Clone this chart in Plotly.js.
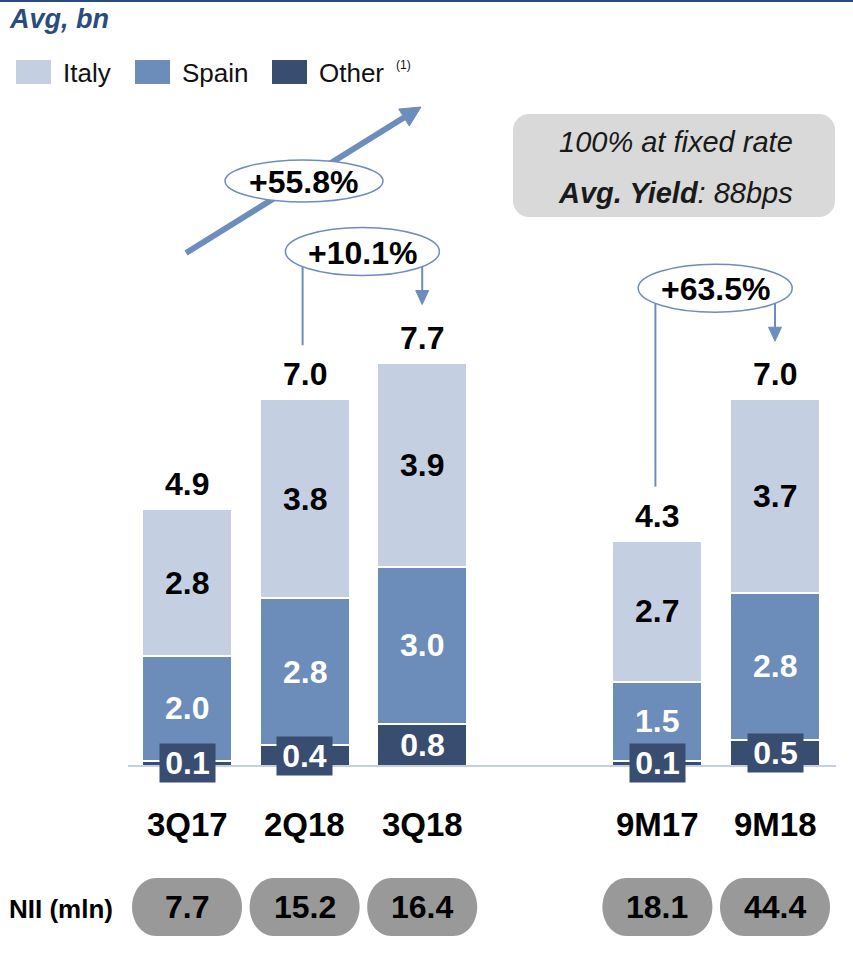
<!DOCTYPE html>
<html><head><meta charset="utf-8">
<script src="https://cdn.plot.ly/plotly-3.0.1.min.js"></script>
<style>html,body{margin:0;padding:0;background:#fff}</style>
</head><body><div id="chart" style="width:853px;height:967px"></div>
<script>
// ---- data ----
const categories = ['3Q17', '2Q18', '3Q18', '9M17', '9M18'];
const slots = [0, 1, 2, 4, 5];            // category slots (gap before the 9M group)
const other = [0.1, 0.4, 0.8, 0.1, 0.5];
const spain = [2.0, 2.8, 3.0, 1.5, 2.8];
const italy = [2.8, 3.8, 3.9, 2.7, 3.7];
const totals = [4.9, 7.0, 7.7, 4.3, 7.0];
const nii = ['7.7', '15.2', '16.4', '18.1', '44.4'];
const seriesNames = ['Italy', 'Spain', 'Other'];
const brackets = [[1, 2, '+10.1%'], [3, 4, '+63.5%']];
const overallGrowth = '+55.8%';

// ---- styling / geometry ----
const cItaly = '#c5cfe2', cSpain = '#6c8dba', cOther = '#384d6f', cArrow = '#6d8dbd';
const FONT = 'Liberation Sans, Arial, sans-serif';
const W = 853, H = 967, X0 = 187, SX = 117.6, Y0 = 766, SY = 52.4;
const dx = px => (px - X0) / SX;
const dy = py => (Y0 - py) / SY;
const toPx = x => X0 + x * SX;
const toPy = y => Y0 - y * SY;
const P = (px, py) => dx(px).toFixed(4) + ',' + dy(py).toFixed(4);

function roundRect(l, t, r, b, rx, ry) {
  const k = 0.5523;
  return 'M' + P(l + rx, t) + ' L' + P(r - rx, t) +
    ' C' + P(r - rx + k * rx, t) + ' ' + P(r, t + ry - k * ry) + ' ' + P(r, t + ry) +
    ' L' + P(r, b - ry) +
    ' C' + P(r, b - ry + k * ry) + ' ' + P(r - rx + k * rx, b) + ' ' + P(r - rx, b) +
    ' L' + P(l + rx, b) +
    ' C' + P(l + rx - k * rx, b) + ' ' + P(l, b - ry + k * ry) + ' ' + P(l, b - ry) +
    ' L' + P(l, t + ry) +
    ' C' + P(l, t + ry - k * ry) + ' ' + P(l + rx - k * rx, t) + ' ' + P(l + rx, t) + ' Z';
}

const barW = 0.765;
const mk = (name, y, color) => ({type: 'bar', name: name, x: slots, y: y, width: barW, hoverinfo: 'skip',
  marker: {color: color, line: {color: '#ffffff', width: 2}}});
const traces = [
  mk(seriesNames[2], other, cOther),
  mk(seriesNames[1], spain, cSpain),
  mk(seriesNames[0], italy, cItaly)
];

const shapes = [];
const ann = [];
const VAL = 32;

// top rule
shapes.push({type: 'line', x0: dx(0), x1: dx(W), y0: dy(1), y1: dy(1), line: {color: '#2b4c7e', width: 2}});
// baseline
shapes.push({type: 'line', x0: dx(128), x1: dx(836), y0: 0, y1: 0, line: {color: cItaly, width: 2}, layer: 'above'});

// legend (manual)
const legX = [16, 135, 272], legColors = [cItaly, cSpain, cOther];
for (let i = 0; i < 3; i++) {
  shapes.push({type: 'rect', x0: dx(legX[i]), x1: dx(legX[i] + 35), y0: dy(60), y1: dy(84), fillcolor: legColors[i], line: {width: 0}});
  ann.push({x: dx(legX[i] + 45), y: dy(73), xanchor: 'left', yanchor: 'middle', showarrow: false,
    text: seriesNames[i], font: {family: FONT, size: 26, color: '#111'}});
}
ann.push({x: dx(394), y: dy(65), xanchor: 'left', yanchor: 'middle', showarrow: false, text: '(1)', font: {family: FONT, size: 12, color: '#111'}});

// header
ann.push({x: dx(7), y: dy(19), xanchor: 'left', yanchor: 'middle', showarrow: false,
  text: '<b><i>Avg, bn</i></b>', font: {family: FONT, size: 27, color: '#2b4c7e'}});

// grey info box
shapes.push({type: 'path', path: roundRect(513, 114, 835, 217, 16, 16), fillcolor: '#d9d9d9', line: {width: 0}});
ann.push({x: dx(676), y: dy(142), showarrow: false, text: '<i>100% at fixed rate</i>', font: {family: FONT, size: 29, color: '#1a1a1a'}});
ann.push({x: dx(675), y: dy(193), showarrow: false, text: '<b><i>Avg. Yield</i></b><i>: 88bps</i>', font: {family: FONT, size: 29, color: '#1a1a1a'}});

// overall growth arrow
(function () {
  const tx = 186, ty = 253, hx = 421, hy = 107;
  const L = Math.hypot(hx - tx, hy - ty), ux = (hx - tx) / L, uy = (hy - ty) / L;
  const bx = hx - 20 * ux, by = hy - 20 * uy, nx = -uy, ny = ux;
  shapes.push({type: 'line', x0: dx(tx), y0: dy(ty), x1: dx(bx), y1: dy(by), line: {color: cArrow, width: 6}});
  shapes.push({type: 'path', path: 'M' + P(hx, hy) + ' L' + P(bx + 10 * nx, by + 10 * ny) + ' L' + P(bx - 10 * nx, by - 10 * ny) + ' Z',
    fillcolor: cArrow, line: {color: cArrow, width: 1}});
  shapes.push({type: 'circle', x0: dx(225), x1: dx(383), y0: dy(160), y1: dy(202), fillcolor: '#fff', line: {color: cArrow, width: 1.5}});
  ann.push({x: dx(303), y: dy(182), showarrow: false, text: '<b>' + overallGrowth + '</b>', font: {family: FONT, size: VAL, color: '#000'}});
})();

// period-on-period brackets
brackets.forEach(([a, b, label]) => {
  const xa = toPx(slots[a]) - 2, xb = toPx(slots[b]);
  const topY = toPy(Math.max(totals[a], totals[b]));
  const cy = topY - 111, cx = (xa + xb) / 2;
  const endA = toPy(totals[a]) - 54, tip = toPy(totals[b]) - 58;
  shapes.push({type: 'line', x0: dx(xa), x1: dx(xa), y0: dy(cy), y1: dy(endA), line: {color: cArrow, width: 2}});
  shapes.push({type: 'line', x0: dx(xb), x1: dx(xb), y0: dy(cy), y1: dy(tip - 12), line: {color: cArrow, width: 2}});
  shapes.push({type: 'path', path: 'M' + P(xb, tip) + ' L' + P(xb - 6.5, tip - 14) + ' L' + P(xb + 6.5, tip - 14) + ' Z',
    fillcolor: cArrow, line: {color: cArrow, width: 1}});
  shapes.push({type: 'circle', x0: dx(cx - 77), x1: dx(cx + 77), y0: dy(cy - 24), y1: dy(cy + 24), fillcolor: '#fff', line: {color: cArrow, width: 1.5}});
  ann.push({x: dx(cx), y: dy(cy + 1), showarrow: false, text: '<b>' + label + '</b>', font: {family: FONT, size: VAL, color: '#000'}});
});

// bar labels
slots.forEach((s, i) => {
  const base2 = other[i] + spain[i];
  ann.push({x: s, y: totals[i], yshift: 25, showarrow: false, text: '<b>' + totals[i].toFixed(1) + '</b>', font: {family: FONT, size: VAL, color: '#000'}});
  ann.push({x: s, y: base2 + italy[i] / 2, showarrow: false, text: '<b>' + italy[i].toFixed(1) + '</b>', font: {family: FONT, size: VAL, color: '#000'}});
  ann.push({x: s, y: other[i] + spain[i] / 2, showarrow: false, text: '<b>' + spain[i].toFixed(1) + '</b>', font: {family: FONT, size: VAL, color: '#fff'}});
  ann.push({x: s, y: other[i] / 2, showarrow: false, text: '<b>' + other[i].toFixed(1) + '</b>', font: {family: FONT, size: VAL, color: '#fff'},
    bgcolor: cOther, width: 55, height: 38, borderpad: 0});
  ann.push({x: s, y: 0, yshift: -58, showarrow: false, text: '<b>' + categories[i] + '</b>', font: {family: FONT, size: 33, color: '#000'}});
  // NII pill
  const cx = toPx(s);
  shapes.push({type: 'path', path: roundRect(cx - 55, 878, cx + 55, 936, 24, 29), fillcolor: '#999999', line: {width: 0}});
  ann.push({x: s, y: dy(907), showarrow: false, text: '<b>' + nii[i] + '</b>', font: {family: FONT, size: 32, color: '#000'}});
});
ann.push({x: dx(7), y: dy(909), xanchor: 'left', showarrow: false, text: '<b>NII (mln)</b>', font: {family: FONT, size: 26, color: '#000'}});

const layout = {
  width: W, height: H, margin: {l: 0, r: 0, t: 0, b: 0},
  paper_bgcolor: '#fff', plot_bgcolor: '#fff',
  barmode: 'stack', showlegend: false, bargap: 0,
  xaxis: {range: [dx(0), dx(W)], visible: false, fixedrange: true},
  yaxis: {range: [dy(H), dy(0)], visible: false, fixedrange: true},
  shapes: shapes, annotations: ann
};
Plotly.newPlot('chart', traces, layout, {displayModeBar: false, staticPlot: true});
</script></body></html>
